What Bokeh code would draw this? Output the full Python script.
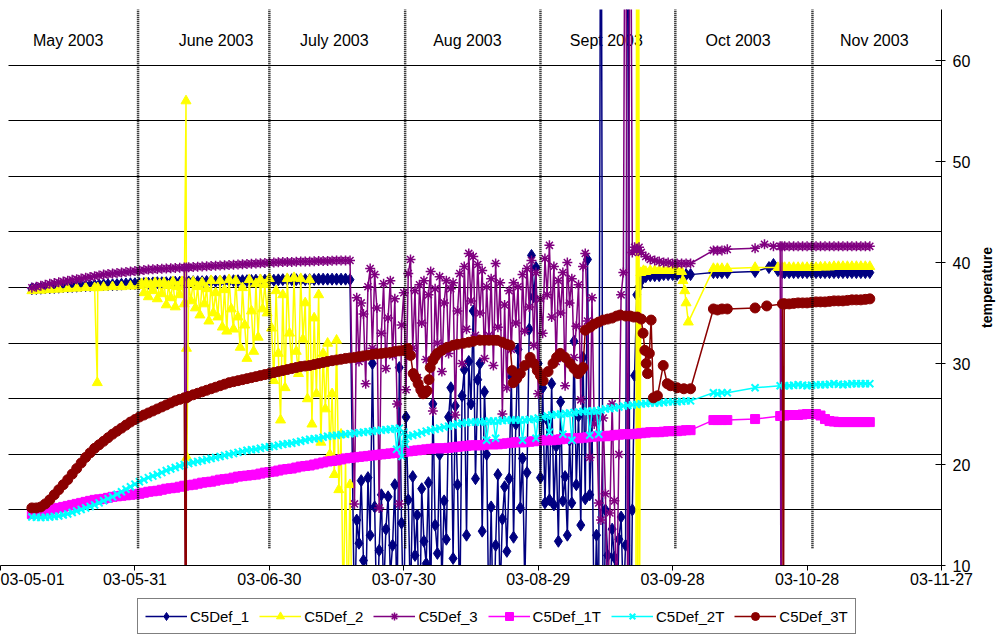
import math
from bokeh.plotting import figure
from bokeh.layouts import column, row
from bokeh.models import (Range1d, FixedTicker, SingleIntervalTicker, Grid, Legend,
                          LegendItem, ColumnDataSource)
from bokeh.core.properties import value
from bokeh.embed import file_html
from bokeh.resources import INLINE

FONT = "Liberation Sans"

# ---------------- axes / annotation data ----------------
tick_days = [0, 30, 60, 90, 120, 150, 180, 210]          # days since 2003-05-01
tick_labels = ["03-05-01", "03-05-31", "03-06-30", "03-07-30",
               "03-08-29", "03-09-28", "03-10-28", "03-11-27"]
temp_ticks = [10, 20, 30, 40, 50, 60]
temp_min, temp_max = 10, 65.05
day_min, day_max = 0, 210
grid_start_day = 1.7
y_title = "temperature"

month_names = ["May 2003", "June 2003", "July 2003", "Aug 2003",
               "Sept 2003", "Oct 2003", "Nov 2003"]
month_name_days = [15.1, 48.1, 74.5, 104.2, 135.2, 164.6, 195.0]
month_label_level = 62.0
month_sep_days = [30.7, 60.0, 90.3, 120.5, 150.6, 181.2]
sep_bottom = 11.7
sep_top = 66.0

# ---------------- series data (day offset since 2003-05-01, temperature) ----------------
days_d1 = [7, 8, 9, 10, 11, 12, 13, 14, 15, 16,
           17, 18, 19, 20, 21, 22, 23, 24, 25, 26,
           27, 28, 29, 30, 31, 32, 33, 34, 35, 36,
           37, 38, 39, 40, 41, 42, 43, 44, 45, 46,
           47, 48, 49, 50, 51, 52, 53, 54, 55, 56,
           57, 58, 59, 60, 61, 62, 63, 64, 65, 66,
           67, 68, 69, 70, 71, 72, 73, 74, 75, 76,
           77, 78, 79, 80, 81, 82, 83, 84, 85, 86,
           87, 88, 89, 90, 91, 92, 93, 94, 95, 96,
           97, 98, 99, 100, 101, 102, 103, 104, 105, 106,
           107, 108, 109, 110, 111, 112, 113, 114, 115, 116,
           117, 118, 119, 120, 121, 122, 123, 124, 125, 126,
           127, 128, 129, 130, 131, 132, 133, 134, 135, 136,
           137, 138, 139, 140, 141, 142, 143, 144, 145, 146,
           147, 148, 149, 150, 151, 152, 153]

day_noisy = [79.0, 79.5, 80.0, 80.5, 81.0, 81.5, 82.0, 82.5, 83.0, 83.5,
             84.0, 84.5, 85.0, 85.5, 86.0, 86.5, 87.0, 87.5, 88.0, 88.5,
             89.0, 89.5, 90.0, 90.5, 91.0, 91.5, 92.0, 92.5, 93.0, 93.5,
             94.0, 94.5, 95.0, 95.5, 96.0, 96.5, 97.0, 97.5, 98.0, 98.5,
             99.0, 99.5, 100.0, 100.5, 101.0, 101.5, 102.0, 102.5, 103.0, 103.5,
             104.0, 104.5, 105.0, 105.5, 106.0, 106.5, 107.0, 107.5, 108.0, 108.5,
             109.0, 109.5, 110.0, 110.5, 111.0, 111.5, 112.0, 112.5, 113.0, 113.5,
             114.0, 114.5, 115.0, 115.5, 116.0, 116.5, 117.0, 117.5, 118.0, 118.5,
             119.0, 119.5, 120.0, 120.5, 121.0, 121.5, 122.0, 122.5, 123.0, 123.5,
             124.0, 124.5, 125.0, 125.5, 126.0, 126.5, 127.0, 127.5, 128.0, 128.5,
             129.0, 129.5, 130.0, 130.5, 131.0, 131.5, 132.0, 132.5, 133.0, 133.5,
             134.0, 134.5, 135.0, 135.5, 136.0, 136.5, 137.0, 137.5, 138.0, 138.5,
             139.0, 139.5, 140.0, 140.5]

days_tail = [175, 176, 177, 178, 179, 180, 181, 182, 183, 184,
             185, 186, 187, 188, 189, 190, 191, 192, 193, 194]

# C5Def_1 (navy) -- days 7..78 then noisy, then late
c1_band = [37.4, 37.42, 37.45, 37.48, 37.5, 37.52, 37.55, 37.58, 37.6, 37.62,
           37.65, 37.68, 37.7, 37.72, 37.75, 37.78, 37.8, 37.8, 37.8, 37.82,
           37.85, 37.88, 37.9, 37.9, 37.9, 37.92, 37.95, 37.98, 38.0, 38.0,
           38.0, 38.02, 38.05, 38.05, 38.05, 38.08, 38.1, 38.1, 38.1, 38.12,
           38.15, 38.15, 38.15, 38.18, 38.2, 38.2, 38.2, 38.2, 38.2, 38.22,
           38.25, 38.25, 38.25, 38.25, 38.25, 38.28, 38.3, 38.3, 38.3, 38.3,
           38.3, 38.3, 38.3, 38.32, 38.35, 38.35, 38.35, 38.35, 38.35, 38.35,
           38.35, 38.3]
c1_noisy = [4.0, 14.5, 12.2, 18.4, 10.5, 6.0, 18.7, 13.0, 30.0, 15.8,
            4.0, 11.5, 17.0, 7.0, 13.6, 16.8, 9.0, 12.0, 18.0, 5.0,
            29.6, 14.2, 3.0, 24.7, 16.5, 6.0, 18.8, 11.0, 15.0, 2.0,
            17.6, 12.4, 10.2, 18.2, 6.0, 26.0, 14.0, 11.2, 21.0, 8.0,
            16.4, 12.6, 24.7, 27.6, 10.7, 25.8, 18.0, 5.0, 26.8, 29.4,
            13.0, 30.2, 26.0, 35.2, 18.6, 28.4, 30.0, 13.4, 27.2, 21.0,
            4.0, 15.8, 2.0, 12.0, 19.0, 7.0, 14.6, 17.8, 11.4, 18.6,
            28.7, 12.8, 24.0, 31.4, 15.7, 20.6, 8.0, 19.2, 33.4, 40.7,
            36.6, 39.5, 30.0, 18.7, 27.6, 16.2, 24.4, 16.5, 28.0, 16.0,
            21.8, 12.4, 26.2, 16.4, 18.8, 13.0, 22.4, 16.2, 32.2, 18.0,
            24.8, 14.0, 30.6, 16.6, 40.3, 17.0, 24.6, 3.0, 13.0, 5.0,
            95.0, -5.0, 15.5, 11.0, 4.0, 13.6, 10.8, 3.0, 12.6, 14.8,
            6.0, 12.0, 95.0, -5.0]
c1_late_day = [141.0, 141.5, 142.0, 142.5, 143.0,
               144, 145, 146, 147, 148, 149, 150, 151, 152, 153, 154,
               159.1, 160.0, 161.0, 162.2, 168.4,
               171.5, 172.5, 173.5, 174.5]
c1_late_val = [15.5, 28.8, 36.8, 37.6, 38.2,
               38.6, 38.7, 38.7, 38.7, 38.8, 38.8, 38.8, 38.8, 38.8, 38.8, 38.8,
               39.0, 39.0, 39.0, 39.0, 39.1,
               39.5, 39.8, 39.2, 39.0]
c1_tail = [39.0, 39.0, 39.0, 39.0, 39.0, 39.0, 39.0, 39.0, 39.0, 39.0,
           39.0, 39.0, 39.0, 39.0, 39.0, 39.0, 39.0, 39.0, 39.0, 39.0]

# C5Def_2 (yellow)
c2_band_day = [7, 9, 11, 13, 15, 17, 19, 21, 21.6, 21.7, 23, 25, 27, 29, 31]
c2_band_val = [37.2, 37.25, 37.3, 37.35, 37.4, 37.45, 37.5, 37.5, 28.1, 37.5,
               37.55, 37.6, 37.6, 37.65, 37.7]
c2_noisy_day = [31.5, 32.0, 32.5, 33.0, 33.5, 34.0, 34.5, 35.0, 35.5, 36.0,
                36.5, 37.0, 37.5, 38.0, 38.5, 39.0, 39.5, 40.0, 40.5, 41.0,
                41.4, 41.5, 41.6,
                42.0, 42.5, 43.0, 43.5, 44.0, 44.5, 45.0, 45.5, 46.0, 46.5,
                47.0, 47.5, 48.0, 48.5, 49.0, 49.5, 50.0, 50.5, 51.0, 51.5,
                52.0, 52.5, 53.0, 53.5, 54.0, 54.5, 55.0, 55.5, 56.0, 56.5,
                57.0, 57.5, 58.0, 58.5, 59.0, 59.5, 60.0, 60.5, 61.0, 61.5,
                62.0, 62.5, 63.0, 63.5, 64.0, 64.5, 65.0, 65.5, 66.0, 66.5,
                67.0, 67.5, 68.0, 68.5, 69.0, 69.5, 70.0, 70.5, 71.0, 71.5,
                72.0, 72.5, 73.0, 73.5, 74.0, 74.5, 75.0, 75.5, 76.0, 76.5,
                77.0, 77.5, 78.0]
c2_noisy_val = [37.9, 37.0, 38.0, 36.6, 37.8, 37.2, 38.0, 36.4, 37.9, 36.9,
                38.0, 35.8, 37.7, 36.5, 38.1, 35.6, 37.6, 36.8, 38.1, 35.9,
                56.0, 31.5, 20.7,
                37.9, 36.2, 38.1, 35.5, 37.6, 34.8, 38.0, 35.9, 37.4, 34.2,
                38.2, 35.0, 37.0, 34.6, 38.2, 33.6, 37.3, 33.2, 38.3, 35.4,
                33.4, 38.2, 34.6, 31.6, 37.5, 33.8, 30.5, 38.3, 35.2, 31.2,
                37.9, 32.6, 38.3, 35.4, 37.8, 35.0, 38.4, 33.5, 28.3, 37.2,
                31.0, 24.4, 36.8, 27.6, 38.4, 33.0, 29.6, 38.5, 31.2, 29.0,
                38.4, 32.4, 36.0, 26.5, 38.3, 24.0, 34.5, 27.0, 36.8, 22.2,
                31.0, 25.5, 32.0, 21.0, 27.0, 19.0, 32.3, 17.5, 23.0, 5.0,
                20.5, 4.0, 18.0]
c2_gap_day = [78.5, 141.8, 142.0, 142.2, 142.4, 142.6]
c2_gap_val = [3.0, 3.0, 95.0, 3.0, 95.0, 3.0]
c2_late_day = [142.9, 143.5, 144, 145, 146, 147, 148, 149, 150, 151, 152,
               152.3, 152.7, 153.0, 153.5,
               159.1, 160.0, 161.0, 162.2, 168.4, 173.5, 174.5]
c2_late_val = [39.0, 39.2, 39.1, 39.2, 39.2, 39.2, 39.2, 39.2, 39.2, 39.2, 39.1,
               38.2, 37.2, 36.0, 34.1,
               39.4, 39.4, 39.4, 39.4, 39.5, 39.5, 39.5]
c2_tail = [39.5, 39.5, 39.5, 39.5, 39.5, 39.5, 39.5, 39.5, 39.55, 39.55,
           39.55, 39.6, 39.6, 39.6, 39.6, 39.6, 39.6, 39.6, 39.6, 39.6]

# C5Def_3 (purple) -- days 7..78 then noisy, then late
c3_band = [37.5, 37.6, 37.7, 37.8, 37.9, 37.97, 38.05, 38.12, 38.2, 38.28,
           38.35, 38.42, 38.5, 38.57, 38.65, 38.72, 38.8, 38.85, 38.9, 38.95,
           39.0, 39.05, 39.1, 39.15, 39.2, 39.25, 39.3, 39.32, 39.35, 39.38,
           39.4, 39.42, 39.45, 39.48, 39.5, 39.52, 39.55, 39.58, 39.6, 39.62,
           39.65, 39.68, 39.7, 39.72, 39.75, 39.78, 39.8, 39.82, 39.85, 39.88,
           39.9, 39.92, 39.95, 39.98, 40.0, 40.02, 40.05, 40.05, 40.05, 40.08,
           40.1, 40.1, 40.1, 40.12, 40.15, 40.15, 40.15, 40.18, 40.2, 40.2,
           40.2, 40.2]
c3_drop_day = [41.4, 41.5]
c3_drop_val = [-5.0, 39.5]
c3_noisy = [16.1, 36.5, 30.2, 36.0, 34.9, 28.0, 37.6, 39.4, 31.5, 38.8,
            35.5, 15.7, 33.0, 37.9, 29.5, 34.5, 38.2, 30.8, 36.4, 26.0,
            16.1, 33.8, 37.0, 27.4, 38.9, 40.3, 31.5, 37.2, 28.6, 37.8,
            34.0, 38.2, 30.4, 36.8, 39.1, 25.3, 37.4, 32.0, 38.6, 29.2,
            36.0, 38.2, 31.0, 37.4, 38.0, 24.9, 35.2, 38.9, 30.0, 39.6,
            33.4, 40.9, 36.2, 40.6, 32.8, 39.8, 35.0, 39.2, 30.5, 37.6,
            32.8, 38.4, 29.8, 39.9, 33.6, 38.0, 25.0, 35.8, 27.6, 37.2,
            31.4, 38.0, 34.0, 37.6, 29.0, 38.8, 33.2, 39.4, 35.6, 40.2,
            31.8, 39.0, 27.0, 36.4, 33.0, 40.4, 36.8, 41.7, 34.6, 39.6,
            30.2, 38.2, 35.0, 39.0, 27.8, 40.0, 36.0, 38.4, 30.6, 33.7,
            37.8, 26.4, 39.6, 40.9, 34.2, 20.7, 36.5, 24.0, 25.0, 16.2,
            14.5, 24.6, 17.1, 5.0, 15.2, 26.0, 16.4, 6.0, 21.0, 36.8,
            39.0, 95.0, -5.0, 95.0]
c3_late_day = [141.0, 141.5, 142.0, 142.5,
               143, 144, 145, 146, 147, 148, 149, 150, 151, 152, 153, 154,
               159.1, 160.0, 161.0, 162.2,
               168.4, 170.5, 172.5, 174.0, 174.2, 174.4]
c3_late_val = [41.0, 41.5, 41.2, 41.5,
               41.0, 40.6, 40.3, 40.2, 40.1, 40.0, 40.0, 39.9, 39.9, 39.9, 39.9, 39.9,
               41.2, 41.2, 41.2, 41.3,
               41.4, 41.8, 41.6, 41.6, -5.0, 41.6]
c3_tail = [41.6, 41.6, 41.6, 41.6, 41.6, 41.6, 41.6, 41.6, 41.6, 41.6,
           41.6, 41.6, 41.6, 41.6, 41.6, 41.6, 41.6, 41.6, 41.6, 41.6]

# C5Def_1T (magenta) -- days 7..153
c1t_band = [15.1, 15.2, 15.3, 15.4, 15.5, 15.6, 15.7, 15.8, 15.9, 16.0,
            16.1, 16.2, 16.3, 16.4, 16.5, 16.55, 16.6, 16.7, 16.8, 16.85,
            16.9, 16.95, 17.0, 17.05, 17.1, 17.2, 17.3, 17.35, 17.4, 17.5,
            17.6, 17.65, 17.7, 17.8, 17.9, 17.95, 18.0, 18.1, 18.2, 18.25,
            18.3, 18.4, 18.5, 18.55, 18.6, 18.7, 18.8, 18.85, 18.9, 18.95,
            19.0, 19.1, 19.2, 19.25, 19.3, 19.4, 19.5, 19.55, 19.6, 19.7,
            19.8, 19.85, 19.9, 20.0, 20.1, 20.2, 20.3, 20.35, 20.4, 20.5,
            20.6, 20.65, 20.7, 20.75, 20.8, 20.85, 20.9, 20.95, 21.0, 21.05,
            21.1, 21.15, 21.2, 21.25, 21.3, 21.35, 21.4, 21.45, 21.5, 21.55,
            21.6, 21.6, 21.6, 21.65, 21.7, 21.75, 21.8, 21.85, 21.9, 21.9,
            21.9, 21.95, 22.0, 22.0, 22.0, 22.05, 22.1, 22.15, 22.2, 22.2,
            22.2, 22.25, 22.3, 22.35, 22.4, 22.4, 22.4, 22.45, 22.5, 22.55,
            22.6, 22.6, 22.6, 22.65, 22.7, 22.75, 22.8, 22.8, 22.8, 22.85,
            22.9, 22.95, 23.0, 23.0, 23.0, 23.05, 23.1, 23.15, 23.2, 23.2,
            23.2, 23.25, 23.3, 23.3, 23.3, 23.35, 23.4]
c1t_late_day = [154.0, 159.1, 160.0, 161.0, 162.2, 168.4, 174]
c1t_late_val = [23.4, 24.4, 24.4, 24.4, 24.4, 24.5, 24.8]
c1t_tail = [24.85, 24.9, 24.9, 24.9, 24.95, 25.0, 25.0, 25.0, 24.85, 24.5,
            24.3, 24.25, 24.2, 24.2, 24.2, 24.2, 24.2, 24.2, 24.2, 24.2]

# C5Def_2T (cyan) -- days 7..153
c2t_band = [14.8, 14.78, 14.75, 14.78, 14.8, 14.85, 14.9, 15.0, 15.1, 15.25,
            15.4, 15.55, 15.7, 15.85, 16.0, 16.2, 16.4, 16.6, 16.8, 17.05,
            17.3, 17.55, 17.8, 18.05, 18.3, 18.5, 18.7, 18.85, 19.0, 19.2,
            19.4, 19.55, 19.7, 19.85, 20.0, 20.1, 20.2, 20.3, 20.4, 20.5,
            20.6, 20.7, 20.8, 20.9, 21.0, 21.1, 21.2, 21.3, 21.4, 21.45,
            21.5, 21.6, 21.7, 21.75, 21.8, 21.9, 22.0, 22.05, 22.1, 22.2,
            22.3, 22.4, 22.5, 22.55, 22.6, 22.7, 22.8, 22.85, 22.9, 22.95,
            23.0, 23.05, 23.1, 23.15, 23.2, 23.25, 23.3, 23.35, 23.4, 23.45,
            23.5, 23.55, 23.6, 23.2, 22.8, 22.9, 23.0, 23.15, 23.3, 23.4,
            23.5, 23.6, 23.7, 23.8, 23.9, 24.0, 24.1, 24.15, 24.2, 24.2,
            24.2, 24.25, 24.3, 24.3, 24.3, 24.35, 24.4, 24.4, 24.4, 24.4,
            24.4, 24.45, 24.5, 24.6, 24.7, 24.8, 24.9, 24.95, 25.0, 25.05,
            25.1, 25.15, 25.2, 25.25, 25.3, 25.3, 25.3, 25.4, 25.5, 25.55,
            25.6, 25.7, 25.8, 25.85, 25.9, 25.95, 26.0, 26.05, 26.1, 26.1,
            26.1, 26.15, 26.2, 26.2, 26.2, 26.25, 26.3]
c2t_dip_day = [88.4, 89.6, 90.4, 108.5, 110.5, 116.5, 119.5, 122.5, 125.5, 127.5, 131.5, 133.5]
c2t_dip_val = [21.5, 20.8, 22.0, 22.4, 22.6, 22.4, 22.6, 23.2, 23.0, 22.4, 22.9, 23.0]
c2t_late_day = [154.0, 159.1, 160.0, 161.0, 162.2, 168.4, 174]
c2t_late_val = [26.3, 27.1, 27.0, 27.1, 27.1, 27.6, 27.8]
c2t_tail = [27.8, 27.8, 27.85, 27.9, 27.85, 27.8, 27.85, 27.9, 27.9, 27.9,
            27.95, 28.0, 27.95, 27.9, 27.95, 28.0, 28.0, 28.0, 28.0, 28.0]

# C5Def_3T (dark red) -- days 7..90, then irregular samples
c3t_band = [15.7, 15.7, 15.8, 16.1, 16.5, 17.0, 17.5, 18.0, 18.5, 19.05,
            19.6, 20.15, 20.7, 21.15, 21.6, 21.95, 22.3, 22.65, 23.0, 23.3,
            23.6, 23.9, 24.2, 24.45, 24.7, 24.9, 25.1, 25.3, 25.5, 25.7,
            25.9, 26.1, 26.3, 26.45, 26.6, 26.75, 26.9, 27.05, 27.2, 27.35,
            27.5, 27.65, 27.8, 27.95, 28.1, 28.2, 28.3, 28.4, 28.5, 28.6,
            28.7, 28.8, 28.9, 29.0, 29.1, 29.2, 29.3, 29.4, 29.5, 29.6,
            29.7, 29.75, 29.8, 29.9, 30.0, 30.1, 30.2, 30.28, 30.35, 30.42,
            30.5, 30.55, 30.6, 30.68, 30.75, 30.82, 30.9, 30.95, 31.0, 31.05,
            31.1, 31.18, 31.25, 31.28]
c3t_drop_day = [41.4, 41.5]
c3t_drop_val = [-5.0, 26.6]
c3t_mid_day = [90.3, 90.8, 91.5, 92.1, 92.6, 93.2, 93.8, 94.3, 94.8, 95.2,
               95.6, 95.9, 96.5, 97.0, 97.5, 98.5, 99.7, 101.0, 102.0, 103.3,
               104.5, 105.5, 107.0, 108.0, 109.0, 110.0, 110.8, 112.0, 113.0, 113.7,
               114.2, 114.4, 115.2, 116.0, 117.0, 118.2, 119.0, 119.8, 120.5, 121.1,
               122.2, 123.3, 124.1, 124.9, 126.0, 127.1, 128.0, 128.9, 129.5, 130.0,
               130.5, 131.6, 132.5, 133.5, 134.5, 135.5, 136.5, 137.5, 138.3, 139.5,
               140.5, 141.3, 142.1, 143.0, 143.4, 143.8, 144.1, 144.4, 144.8, 145.2,
               145.7, 146.6, 147.9, 148.8, 149.5, 151.0, 152.5, 154.0, 159.1, 160.0,
               161.0, 162.2, 168.4, 171.0, 174.5, 174.7, 174.9]
c3t_mid_val = [31.3, 31.5, 30.8, 29.0, 28.6, 28.0, 27.4, 27.0, 27.1, 27.3,
               28.4, 29.6, 30.3, 30.7, 31.0, 31.3, 31.6, 31.8, 31.9, 32.0,
               32.1, 32.2, 32.3, 32.3, 32.3, 32.3, 32.3, 32.1, 31.9, 31.8,
               29.3, 28.1, 28.5, 29.0, 29.8, 30.6, 30.0, 29.3, 28.8, 28.3,
               29.2, 30.0, 30.6, 31.0, 30.6, 30.0, 29.5, 29.0, 29.3, 29.6,
               33.3, 33.6, 33.9, 34.1, 34.3, 34.4, 34.5, 34.7, 34.8, 34.7,
               34.7, 34.6, 34.6, 34.4, 33.0, 31.3, 30.0, 29.0, 31.0, 34.3,
               26.6, 26.8, 29.8, 28.0, 27.8, 27.6, 27.5, 27.5, 35.4, 35.3,
               35.4, 35.4, 35.5, 35.7, 35.9, -5.0, 35.9]
c3t_tail = [35.9, 35.9, 35.95, 36.0, 36.0, 36.0, 36.05, 36.1, 36.1, 36.1,
            36.15, 36.2, 36.2, 36.2, 36.25, 36.3, 36.3, 36.3, 36.35, 36.4]


def build(*segments):
    pts = []
    for days, vals in segments:
        pts.extend(zip(days, vals))
    pts.sort(key=lambda t: t[0])
    return ColumnDataSource(dict(x=[a for a, _ in pts], y=[b for _, b in pts]))


series = [
    ("C5Def_1", "#000080", "diamond", 12, 1,
     build((days_d1[:72], c1_band), (day_noisy, c1_noisy),
           (c1_late_day, c1_late_val), (days_tail, c1_tail))),
    ("C5Def_2", "#FFFF00", "triangle", 10, 1,
     build((c2_band_day, c2_band_val), (c2_noisy_day, c2_noisy_val),
           (c2_gap_day, c2_gap_val), (c2_late_day, c2_late_val), (days_tail, c2_tail))),
    ("C5Def_3", "#800080", "asterisk", 10, 1.5,
     build((days_d1[:72], c3_band), (c3_drop_day, c3_drop_val), (day_noisy, c3_noisy),
           (c3_late_day, c3_late_val), (days_tail, c3_tail))),
    ("C5Def_1T", "#FF00FF", "square", 9, 1,
     build((days_d1, c1t_band), (c1t_late_day, c1t_late_val), (days_tail, c1t_tail))),
    ("C5Def_2T", "#00FFFF", "x", 10, 2,
     build((days_d1, c2t_band), (c2t_dip_day, c2t_dip_val),
           (c2t_late_day, c2t_late_val), (days_tail, c2t_tail))),
    ("C5Def_3T", "#8B0000", "circle", 10, 1,
     build((days_d1[:84], c3t_band), (c3t_drop_day, c3t_drop_val),
           (c3t_mid_day, c3t_mid_val), (days_tail, c3t_tail))),
]

# ---------------- main figure ----------------
y_range = Range1d(temp_min, temp_max)
p = figure(frame_width=941, frame_height=556, x_range=Range1d(day_min, day_max),
           y_range=y_range,
           y_axis_location="right", output_backend="svg", toolbar_location=None,
           min_border_left=0, min_border_right=32, min_border_top=9, min_border_bottom=30,
           background_fill_color="white", border_fill_color="white")
p.outline_line_color = None
p.grid.visible = False
p.extra_y_ranges = {"primary": Range1d(0, 10)}
grid_kw = dict(dimension=1, ticker=SingleIntervalTicker(interval=1), y_range_name="primary",
               grid_line_color="black", grid_line_width=1)
try:
    grid = Grid(cross_bounds=(grid_start_day, day_max), **grid_kw)
except Exception:
    grid = Grid(**grid_kw)
p.add_layout(grid)

xa = p.xaxis[0]
xa.ticker = FixedTicker(ticks=tick_days)
xa.major_label_overrides = dict(zip(tick_days, tick_labels))
xa.major_tick_in = 0
xa.major_tick_out = 5
xa.minor_tick_line_color = None
xa.axis_line_color = "black"
xa.major_tick_line_color = "black"
xa.major_label_text_font = FONT
xa.major_label_text_font_size = "16px"
xa.major_label_text_color = "black"
xa.major_label_standoff = 2

ya = p.yaxis[0]
ya.ticker = FixedTicker(ticks=temp_ticks)
ya.major_tick_in = 6
ya.major_tick_out = 4
ya.minor_tick_line_color = None
ya.axis_line_color = "black"
ya.major_tick_line_color = "black"
ya.major_label_text_font = FONT
ya.major_label_text_font_size = "16px"
ya.major_label_text_color = "black"
ya.major_label_standoff = 7

p.text(x=month_name_days, y=[month_label_level] * len(month_names), text=month_names,
       text_align="center", text_baseline="middle", text_font=value(FONT),
       text_font_size="16px", text_color="black")

for name, color, marker, size, lw, src in series:
    p.line("x", "y", source=src, line_color=color, line_width=1.5)
    p.scatter("x", "y", source=src, marker=marker, size=size,
              fill_color=color, line_color=color, line_width=lw)

p.segment(x0=month_sep_days, y0=[sep_bottom] * len(month_sep_days),
          x1=month_sep_days, y1=[sep_top] * len(month_sep_days),
          line_color="black", line_width=2.5, line_dash="1 1")

# ---------------- axis title strip (reads bottom-to-top) ----------------
pt = figure(width=27, frame_height=556, x_range=Range1d(0, 1), y_range=y_range,
            x_axis_location=None, y_axis_location=None, output_backend="svg",
            toolbar_location=None, min_border_left=0, min_border_right=0,
            min_border_top=9, min_border_bottom=30,
            background_fill_color="white", border_fill_color="white")
pt.outline_line_color = None
pt.grid.visible = False
pt.text(x=[0.5], y=[(temp_min + temp_max) / 2], text=[y_title], angle=math.pi / 2,
        text_align="center", text_baseline="middle", text_font=value(FONT),
        text_font_style="bold", text_font_size="14px", text_color="black")

# ---------------- legend strip below the chart ----------------
pl = figure(width=1000, height=42, x_range=Range1d(0, 1), y_range=Range1d(0, 1),
            x_axis_location=None, y_axis_location=None, output_backend="svg",
            toolbar_location=None, min_border_left=0, min_border_right=0,
            min_border_top=0, min_border_bottom=0,
            background_fill_color="white", border_fill_color="white")
pl.outline_line_color = None
pl.grid.visible = False
items = []
for name, color, marker, size, lw, _src in series:
    key_src = ColumnDataSource(dict(x=[float("nan")], y=[float("nan")]))
    lr = pl.line("x", "y", source=key_src, line_color=color, line_width=1.5)
    sr = pl.scatter("x", "y", source=key_src, marker=marker, size=size,
                    fill_color=color, line_color=color, line_width=lw)
    items.append(LegendItem(label=name, renderers=[lr, sr]))

legend = Legend(items=items, orientation="horizontal", location=(137, 3),
                border_line_color="black", border_line_width=1,
                background_fill_color="white", background_fill_alpha=1,
                label_text_font=FONT, label_text_font_size="15px",
                label_text_color="black",
                glyph_width=42, glyph_height=20, label_standoff=3, spacing=10,
                padding=7, margin=0)
pl.add_layout(legend)

layout = column(row(p, pt, spacing=0), pl, spacing=0)
open("out.html", "w").write(file_html(layout, INLINE))
